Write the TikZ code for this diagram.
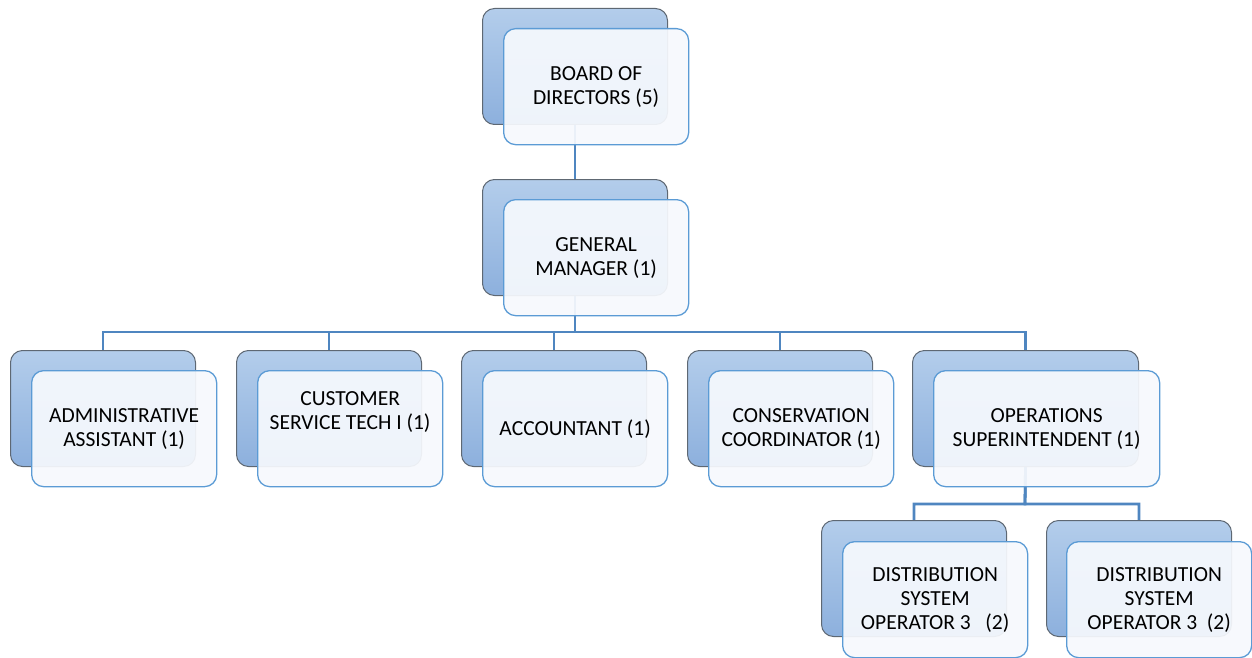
\documentclass[tikz,border=0pt]{standalone}
\usepackage{fontspec}
\setmainfont{Carlito}
\usetikzlibrary{backgrounds}
\definecolor{backtop}{HTML}{B3CDEB}
\definecolor{backbot}{HTML}{8DB0DD}
\definecolor{backline}{HTML}{5E6873}
\definecolor{frontline}{HTML}{5B9BD5}
\definecolor{frontfill}{HTML}{F6F9FD}
\definecolor{linkblue}{HTML}{4F86C0}
\tikzset{
  backbox/.style={draw=backline, line width=1pt, rounded corners=12pt,
    top color=backtop, bottom color=backbot, anchor=north west,
    minimum width=185pt, minimum height=116pt, inner sep=0pt},
  frontbox/.style={draw=frontline, line width=1.3pt, rounded corners=12pt,
    fill=frontfill, fill opacity=0.93, text opacity=1, anchor=north west,
    minimum width=185pt, minimum height=116pt, inner sep=0pt,
    align=center, font=\fontsize{21.5}{24}\selectfont},
  link/.style={draw=linkblue, line width=2.8pt}
}
\begin{document}
\begin{tikzpicture}[x=1pt,y=-1pt]
  \useasboundingbox (0,0) rectangle (1252,658);
  % top of the chart
  \node[backbox] (bboard) at (482,8) {};
  \node[frontbox] (board) at (503,28) {BOARD OF\\DIRECTORS (5)};
  \node[backbox] (bgm) at (482,179) {};
  \node[frontbox] (gm) at (503,199) {GENERAL\\MANAGER (1)};
  % second row
  \node[backbox] (badmin) at (10,350) {};
  \node[frontbox] (admin) at (31,370) {ADMINISTRATIVE\\ASSISTANT (1)};
  \node[backbox] (bcust) at (236,350) {};
  \node[frontbox, label={[name=custtext, font=\fontsize{21.5}{24}\selectfont, align=center, yshift=17pt]center:CUSTOMER\\SERVICE TECH I (1)}] (cust) at (257,370) {};
  \node[backbox] (bacct) at (461,350) {};
  \node[frontbox] (acct) at (482,370) {ACCOUNTANT (1)};
  \node[backbox] (bcons) at (687,350) {};
  \node[frontbox] (cons) at (708,370) {CONSERVATION\\COORDINATOR (1)};
  \node[backbox, minimum width=226pt] (bops) at (912,350) {};
  \node[frontbox, minimum width=226pt] (ops) at (933,370) {OPERATIONS\\SUPERINTENDENT (1)};
  % third row
  \node[backbox] (bdsoa) at (821,520) {};
  \node[frontbox] (dsoa) at (842,541) {DISTRIBUTION\\SYSTEM\\OPERATOR 3\ \ \ (2)};
  \node[backbox] (bdsob) at (1046,520) {};
  \node[frontbox] (dsob) at (1066,541) {DISTRIBUTION\\SYSTEM\\OPERATOR 3\ \ (2)};
  % connectors
  \coordinate (splitgm) at (575,332);
  \coordinate (splitops) at (1025,504);
  \begin{scope}[on background layer]
    \draw[link] (bboard.south) -- (bgm.north);
    \foreach \n in {admin,cust,acct,cons,ops}{
      \draw[link] (bgm.south) -- (splitgm) -| (b\n.north);
    }
    \foreach \n in {dsoa,dsob}{
      \draw[link] (bops.south) -- (splitops) -| (b\n.north);
    }
  \end{scope}
\end{tikzpicture}
\end{document}
